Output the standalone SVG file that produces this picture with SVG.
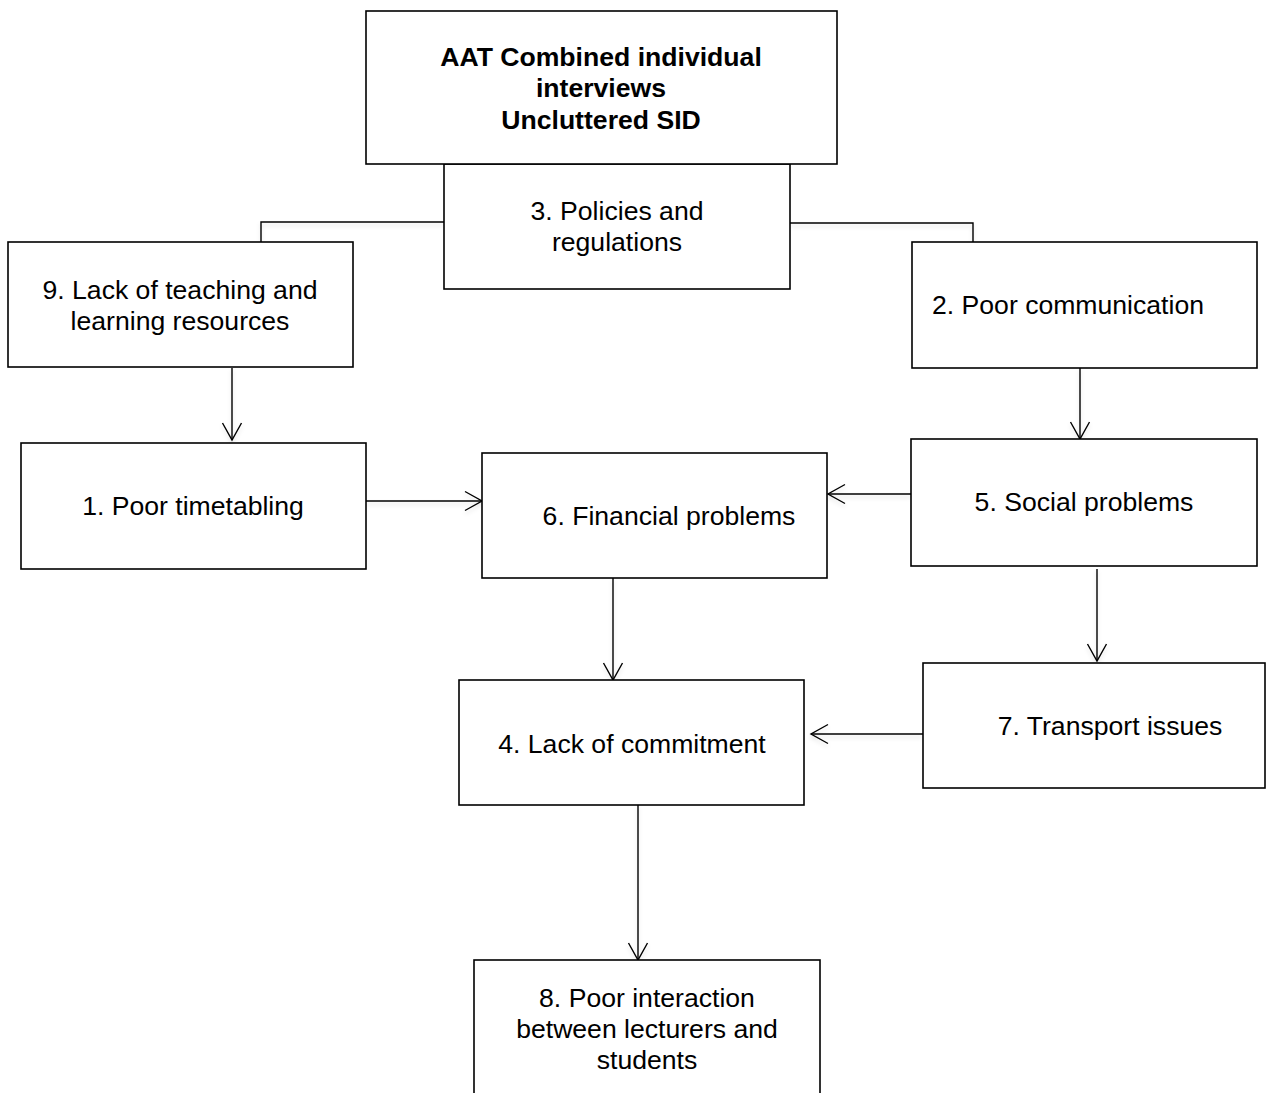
<svg xmlns="http://www.w3.org/2000/svg" width="1266" height="1093" viewBox="0 0 1266 1093">
  <style>
    .box { fill: #ffffff; stroke: #000000; stroke-width: 1.6; }
    .lbl { font-family: "Liberation Sans", Arial, sans-serif; font-size: 26.6px; fill: #000000; text-anchor: middle; }
    .title { font-weight: bold; }
    .conn { fill: none; stroke: #000000; stroke-width: 1.4; }
  </style>
  <defs>
    <!-- open V arrowhead -->
    <marker id="arrow" viewBox="0 0 22 22" refX="18" refY="11" markerWidth="22" markerHeight="22" markerUnits="userSpaceOnUse" orient="auto">
      <path d="M1,1.5 L18,11 L1,20.5" fill="none" stroke="#000000" stroke-width="1.4"/>
    </marker>
    <filter id="soft" x="-5%" y="-5%" width="110%" height="120%">
      <feDropShadow dx="0" dy="3" stdDeviation="2" flood-color="#000000" flood-opacity="0.12"/>
    </filter>
  </defs>

  <rect width="1266" height="1093" fill="#ffffff"/>

  <!-- connectors -->
  <g id="connectors" filter="url(#soft)">
    <polyline class="conn" points="444,222 261,222 261,242"/>
    <polyline class="conn" points="790,223 973,223 973,242"/>
    <line class="conn" x1="232" y1="368" x2="232" y2="440" marker-end="url(#arrow)"/>
    <line class="conn" x1="1080" y1="368" x2="1080" y2="439" marker-end="url(#arrow)"/>
    <line class="conn" x1="366" y1="501" x2="482" y2="501" marker-end="url(#arrow)"/>
    <line class="conn" x1="911" y1="494" x2="828" y2="494" marker-end="url(#arrow)"/>
    <line class="conn" x1="1097" y1="569" x2="1097" y2="661" marker-end="url(#arrow)"/>
    <line class="conn" x1="613" y1="578" x2="613" y2="680" marker-end="url(#arrow)"/>
    <line class="conn" x1="923" y1="734" x2="811" y2="734" marker-end="url(#arrow)"/>
    <line class="conn" x1="638" y1="805" x2="638" y2="960" marker-end="url(#arrow)"/>
  </g>

  <!-- nodes -->
  <g id="node-policies">
    <rect class="box" x="444" y="164" width="346" height="125"/>
    <text class="lbl" x="617" y="220">3. Policies and</text>
    <text class="lbl" x="617" y="251">regulations</text>
  </g>

  <g id="node-title">
    <rect class="box" x="366" y="11" width="471" height="153" stroke-width="2"/>
    <text class="lbl title" x="601" y="66">AAT Combined individual</text>
    <text class="lbl title" x="601" y="97">interviews</text>
    <text class="lbl title" x="601" y="129">Uncluttered SID</text>
  </g>

  <g id="node-resources">
    <rect class="box" x="8" y="242" width="345" height="125"/>
    <text class="lbl" x="180" y="299">9. Lack of teaching and</text>
    <text class="lbl" x="180" y="330">learning resources</text>
  </g>

  <g id="node-communication">
    <rect class="box" x="912" y="242" width="345" height="126"/>
    <text class="lbl" x="1068" y="314">2. Poor communication</text>
  </g>

  <g id="node-timetabling">
    <rect class="box" x="21" y="443" width="345" height="126"/>
    <text class="lbl" x="193" y="515">1. Poor timetabling</text>
  </g>

  <g id="node-social">
    <rect class="box" x="911" y="439" width="346" height="127"/>
    <text class="lbl" x="1084" y="511">5. Social problems</text>
  </g>

  <g id="node-financial">
    <rect class="box" x="482" y="453" width="345" height="125"/>
    <text class="lbl" x="669" y="525">6. Financial problems</text>
  </g>

  <g id="node-transport">
    <rect class="box" x="923" y="663" width="342" height="125"/>
    <text class="lbl" x="1110" y="735">7. Transport issues</text>
  </g>

  <g id="node-commitment">
    <rect class="box" x="459" y="680" width="345" height="125"/>
    <text class="lbl" x="632" y="753">4. Lack of commitment</text>
  </g>

  <g id="node-interaction">
    <rect class="box" x="474" y="960" width="346" height="140"/>
    <text class="lbl" x="647" y="1007">8. Poor interaction</text>
    <text class="lbl" x="647" y="1038">between lecturers and</text>
    <text class="lbl" x="647" y="1069">students</text>
  </g>
</svg>
